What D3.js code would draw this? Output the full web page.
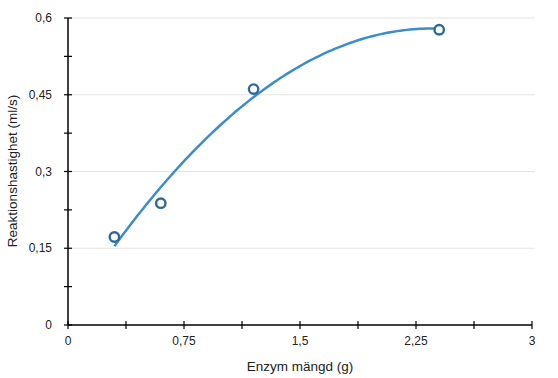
<!DOCTYPE html>
<html>
<head>
<meta charset="utf-8">
<script src="https://cdn.jsdelivr.net/npm/d3@7"></script>
<style>
  body { margin: 0; background: #fff; }
  text { font-family: "Liberation Sans", Arial, sans-serif; fill: #222; }
</style>
</head>
<body>
<div id="vis-container"></div>
<script>
let width = 558;
let height = 378;

// measured points
let enzyme = [0.3, 0.6, 1.2, 2.4];
let rate = [0.172, 0.238, 0.461, 0.577];

let x_ticks = [0, 0.75, 1.5, 2.25, 3];
let x_labels = ["0", "0,75", "1,5", "2,25", "3"];
let y_ticks = [0, 0.15, 0.3, 0.45, 0.6];
let y_labels = ["0", "0,15", "0,3", "0,45", "0,6"];

let x = d3.scaleLinear().domain([0, 3]).range([68, 532]);
let y = d3.scaleLinear().domain([0, 0.6]).range([325, 18]);

let svg = d3.select("#vis-container").append("svg")
  .attr("width", width)
  .attr("height", height);

// gridlines
svg.append("g")
  .selectAll("line")
  .data(y_ticks.slice(1))
  .enter().append("line")
    .attr("x1", x(0)).attr("x2", 535)
    .attr("y1", d => y(d)).attr("y2", d => y(d))
    .attr("stroke", "#e4e4e4").attr("stroke-width", 1);

// quadratic least squares trendline
function quadFit(xs, ys) {
  let S = [0, 0, 0, 0, 0], T = [0, 0, 0];
  xs.forEach((xv, i) => {
    for (let k = 0; k < 5; k++) S[k] += Math.pow(xv, k);
    for (let k = 0; k < 3; k++) T[k] += Math.pow(xv, k) * ys[i];
  });
  let A = [[S[0], S[1], S[2], T[0]], [S[1], S[2], S[3], T[1]], [S[2], S[3], S[4], T[2]]];
  for (let i = 0; i < 3; i++) {
    for (let j = i + 1; j < 3; j++) {
      let f = A[j][i] / A[i][i];
      for (let k = i; k < 4; k++) A[j][k] -= f * A[i][k];
    }
  }
  let c = [0, 0, 0];
  for (let i = 2; i >= 0; i--) {
    let s = A[i][3];
    for (let k = i + 1; k < 3; k++) s -= A[i][k] * c[k];
    c[i] = s / A[i][i];
  }
  return c;
}
let coef = quadFit(enzyme, rate);
let curve_x = d3.range(0, 101).map(i => 0.3 + (2.4 - 0.3) * i / 100);
let line = d3.line()
  .x(d => x(d))
  .y(d => y(coef[0] + coef[1] * d + coef[2] * d * d));

svg.append("path")
  .datum(curve_x)
  .attr("d", line)
  .attr("fill", "none")
  .attr("stroke", "#3d8ccb")
  .attr("stroke-width", 2.5);

// axes
let xAxis = svg.append("g").attr("transform", "translate(0," + y(0) + ")");
xAxis.append("line").attr("x1", x(0)).attr("x2", x(3)).attr("stroke", "#000").attr("stroke-width", 1.5);
xAxis.selectAll("line.tick")
  .data(d3.range(0, 9).map(i => i * 0.375))
  .enter().append("line")
    .attr("class", "tick")
    .attr("x1", d => x(d)).attr("x2", d => x(d))
    .attr("y1", -4).attr("y2", 4)
    .attr("stroke", "#000").attr("stroke-width", 1.2);
xAxis.selectAll("text")
  .data(x_ticks)
  .enter().append("text")
    .attr("x", d => x(d))
    .attr("y", 20)
    .attr("text-anchor", "middle")
    .style("font-size", "12px")
    .text((d, i) => x_labels[i]);

let yAxis = svg.append("g").attr("transform", "translate(" + x(0) + ",0)");
yAxis.append("line").attr("y1", y(0)).attr("y2", y(0.6)).attr("stroke", "#000").attr("stroke-width", 1.5);
yAxis.selectAll("line.tick")
  .data(d3.range(0, 9).map(i => i * 0.075))
  .enter().append("line")
    .attr("class", "tick")
    .attr("y1", d => y(d)).attr("y2", d => y(d))
    .attr("x1", -4).attr("x2", 4)
    .attr("stroke", "#000").attr("stroke-width", 1.2);
yAxis.selectAll("text")
  .data(y_ticks)
  .enter().append("text")
    .attr("x", -16)
    .attr("y", d => y(d) + 4)
    .attr("text-anchor", "end")
    .style("font-size", "12px")
    .text((d, i) => y_labels[i]);

// points
svg.append("g")
  .selectAll("circle")
  .data(enzyme)
  .enter().append("circle")
    .attr("cx", d => x(d))
    .attr("cy", (d, i) => y(rate[i]))
    .attr("r", 4.7)
    .attr("fill", "#fff")
    .attr("stroke", "#2d6a9a")
    .attr("stroke-width", 2.4);

// axis titles
svg.append("text")
  .attr("x", 300).attr("y", 371)
  .attr("text-anchor", "middle")
  .style("font-size", "13.5px")
  .text("Enzym mängd (g)");

svg.append("text")
  .attr("transform", "translate(17,171) rotate(-90)")
  .attr("text-anchor", "middle")
  .style("font-size", "13.5px")
  .text("Reaktionshastighet (ml/s)");
</script>
</body>
</html>
